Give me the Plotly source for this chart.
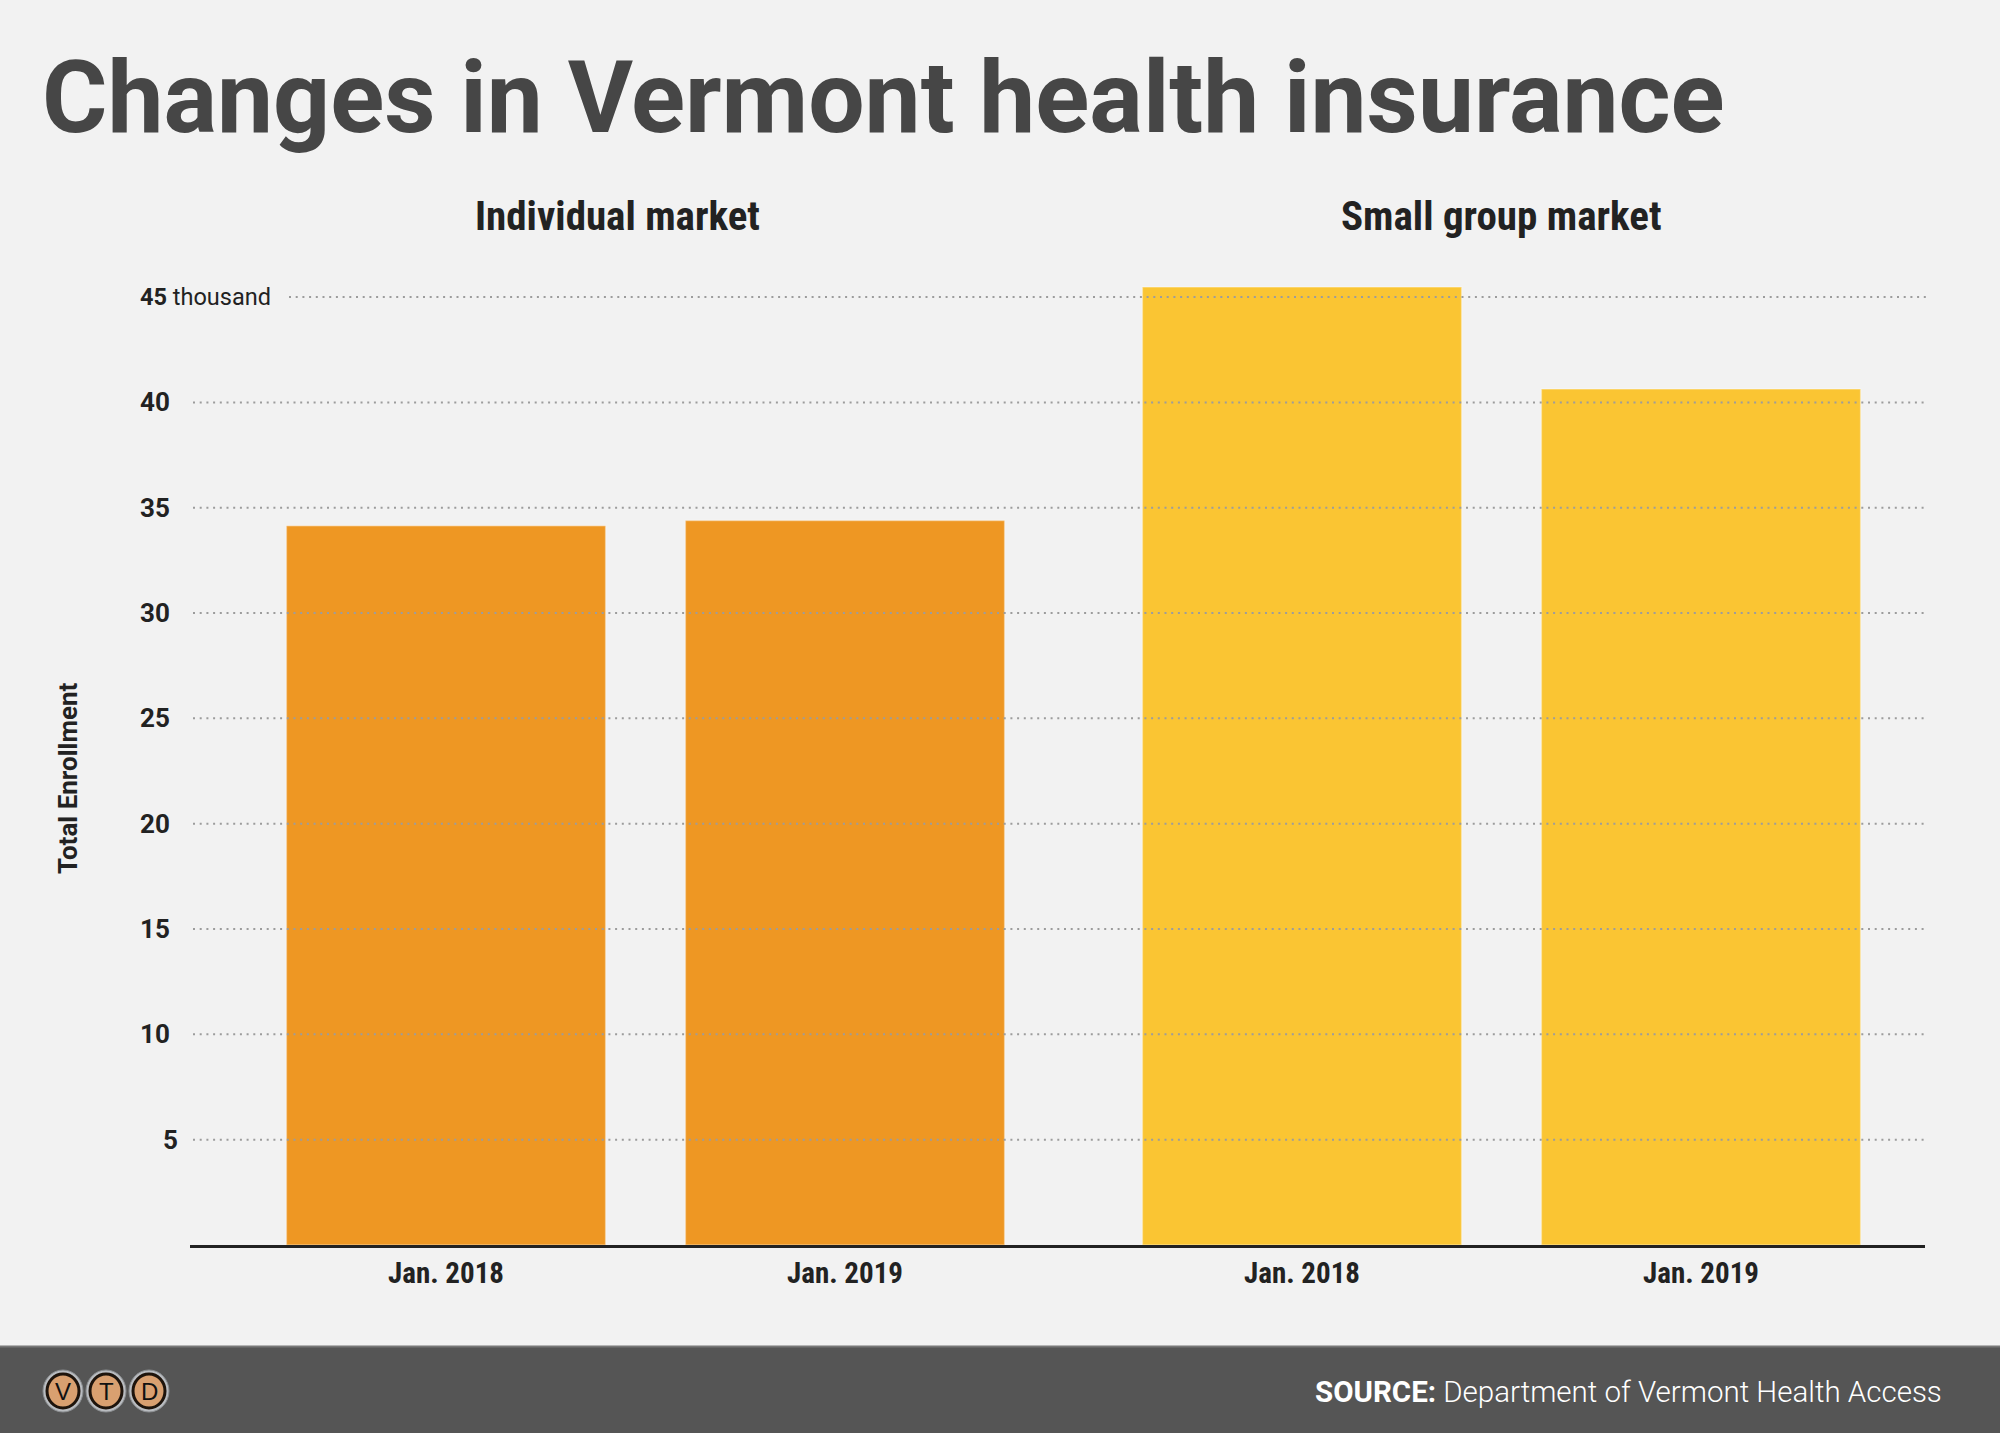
import plotly.graph_objects as go

# ---------------- data ----------------
periods = ["Jan. 2018", "Jan. 2019"]
individual_market = [34.14, 34.39]      # thousand enrollees
small_group_market = [45.48, 40.63]     # thousand enrollees
y_ticks = [5, 10, 15, 20, 25, 30, 35, 40, 45]
y_tick_labels = ["5", "10", "15", "20", "25", "30", "35", "40", "<b>45</b> thousand"]
panel_titles = ["Individual market", "Small group market"]
title_text = "Changes in Vermont health insurance"
source_text = "<b>SOURCE:</b> Department of Vermont Health Access"
logo_letters = ["V", "T", "D"]

# ---------------- styles ----------------
W, H = 2000, 1433
BG = "#f2f2f2"
ORANGE = "#ee9723"
YELLOW = "#fac533"
DARK = "#222222"
COND = "Roboto Condensed, Liberation Sans Narrow, Roboto, sans-serif"
ROBOTO = "Roboto, sans-serif"


def fx(px):
    return px / W


def fy(py):
    return (H - py) / H


# plot geometry (pixels)
PL, PR = 190, 1925
SPLIT = 1073.5
P_TOP, P_BOT = 276, 1245
Y_MAX = 46
UNIT = 399.0
C1, C2 = 446, 1302

fig = go.Figure()
fig.add_trace(go.Bar(x=periods, y=individual_market, xaxis="x", yaxis="y",
                     marker=dict(color=ORANGE, line=dict(color="rgba(255,255,255,0.35)", width=1.5)),
                     hoverinfo="x+y", showlegend=False))
fig.add_trace(go.Bar(x=periods, y=small_group_market, xaxis="x2", yaxis="y",
                     marker=dict(color=YELLOW, line=dict(color="rgba(255,255,255,0.35)", width=1.5)),
                     hoverinfo="x+y", showlegend=False))

xax_common = dict(type="category", showgrid=False, zeroline=False, showline=True,
                  linecolor=DARK, linewidth=2.5, ticks="", fixedrange=True,
                  tickfont=dict(family=COND, size=29, color=DARK, weight="bold"))

fig.update_layout(
    width=W, height=H,
    paper_bgcolor=BG, plot_bgcolor=BG,
    margin=dict(l=0, r=0, t=0, b=0),
    bargap=0.2,
    xaxis=dict(domain=[fx(PL), fx(SPLIT)],
               range=[(PL - C1) / UNIT, (SPLIT - C1) / UNIT], anchor="y", **xax_common),
    xaxis2=dict(domain=[fx(SPLIT), fx(PR)],
                range=[(SPLIT - C2) / UNIT, (PR - C2) / UNIT], anchor="y", **xax_common),
    yaxis=dict(domain=[fy(P_BOT), fy(P_TOP)], range=[0, Y_MAX], showgrid=False,
               zeroline=False, showticklabels=False, showline=False, fixedrange=True),
    font=dict(family=ROBOTO, color=DARK),
)

shapes = []
annotations = []

# dotted gridlines drawn above the bars
for v, lab in zip(y_ticks, y_tick_labels):
    x0 = 289 if "thousand" in lab else 193
    shapes.append(dict(type="line", xref="paper", yref="y", x0=fx(x0), x1=fx(1928),
                       y0=v, y1=v, layer="above",
                       line=dict(color="#9c9c9c", width=2, dash="2px,4.7px")))
    if len(lab) == 1:
        annotations.append(dict(xref="paper", yref="y", x=fx(180), y=v, xanchor="right",
                                yanchor="middle", text=lab, showarrow=False,
                                font=dict(family=ROBOTO, size=26, color=DARK, weight="bold")))
    else:
        annotations.append(dict(xref="paper", yref="y", x=fx(138), y=v, xanchor="left",
                                yanchor="middle", text=lab if "thousand" in lab else "<b>%s</b>" % lab,
                                showarrow=False,
                                font=dict(family=ROBOTO, size=26 if "thousand" not in lab else 23.5,
                                          color=DARK)))

# title
annotations.append(dict(xref="paper", yref="paper", x=fx(40), y=fy(97), xanchor="left",
                        yanchor="middle", text="<b>%s</b>" % title_text, showarrow=False,
                        font=dict(family=ROBOTO, size=100, color="#464646")))
# panel titles
for cx, t in zip([617, 1501], panel_titles):
    annotations.append(dict(xref="paper", yref="paper", x=fx(cx), y=fy(216), xanchor="center",
                            yanchor="middle", text=t, showarrow=False,
                            font=dict(family=COND, size=41, color=DARK, weight="bold")))
# y axis title
annotations.append(dict(xref="paper", yref="paper", x=fx(68), y=fy(778), xanchor="center",
                        yanchor="middle", text="Total Enrollment", textangle=-90, showarrow=False,
                        font=dict(family=ROBOTO, size=26, color=DARK, weight="bold")))

# footer band
shapes.append(dict(type="rect", xref="paper", yref="paper", x0=0, x1=1, y0=0, y1=fy(1346),
                   fillcolor="#555555", line=dict(width=0), layer="below"))
shapes.append(dict(type="line", xref="paper", yref="paper", x0=0, x1=1, y0=fy(1346.5), y1=fy(1346.5),
                   line=dict(color="#777777", width=2), layer="above"))
annotations.append(dict(xref="paper", yref="paper", x=fx(1944), y=fy(1392), xanchor="right",
                        yanchor="middle", text=source_text, showarrow=False,
                        font=dict(family=ROBOTO, size=29.5, color="#ffffff", weight=300)))

# logo
for i, L in enumerate(logo_letters):
    cx, cy = 63 + 43 * i, 1391
    shapes.append(dict(type="circle", xref="paper", yref="paper",
                       x0=fx(cx - 20), x1=fx(cx + 20), y0=fy(cy + 21), y1=fy(cy - 21),
                       fillcolor="#b9bcc0", line=dict(color="#8a8d90", width=1), layer="above"))
    shapes.append(dict(type="circle", xref="paper", yref="paper",
                       x0=fx(cx - 16), x1=fx(cx + 16), y0=fy(cy + 17), y1=fy(cy - 17),
                       fillcolor="#d9a070", line=dict(color="#1e140c", width=3), layer="above"))
    annotations.append(dict(xref="paper", yref="paper", x=fx(cx), y=fy(cy), xanchor="center",
                            yanchor="middle", text=L, showarrow=False,
                            font=dict(family="Liberation Sans, sans-serif", size=24, color="#111111")))

fig.update_layout(shapes=shapes, annotations=annotations)
fig.write_html("out.html", config={"displayModeBar": False},
               post_script="document.body.style.margin='0px';document.body.style.overflow='hidden';")
